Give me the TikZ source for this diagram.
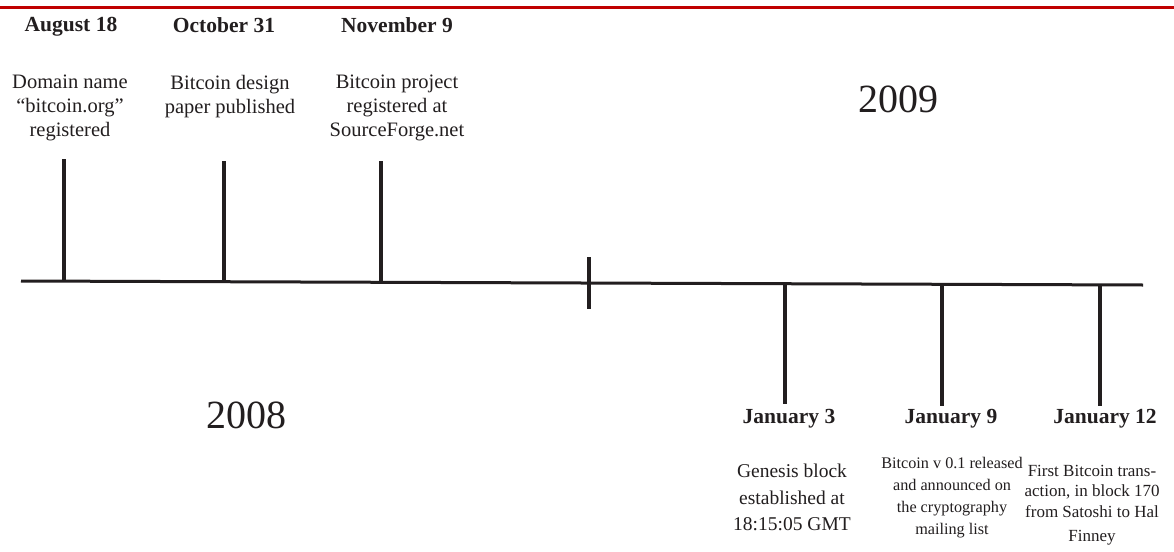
\documentclass[tikz,border=0pt]{standalone}
\usepackage{fontspec}
\setmainfont{Liberation Serif}
\definecolor{rulered}{RGB}{192,0,0}
\definecolor{ink}{RGB}{34,30,31}
\begin{document}
\begin{tikzpicture}[x=1pt,y=-1pt,
  axis/.style={draw=ink,line width=3pt},
  tickline/.style={draw=ink,line width=3.2pt},
  datelbl/.style={anchor=base,inner sep=0pt,font=\bfseries\fontsize{21.5}{24}\selectfont,text=ink},
  topdesc/.style={anchor=north,inner sep=0pt,align=center,font=\fontsize{20.5}{24}\selectfont,text=ink},
  year/.style={anchor=base,inner sep=0pt,font=\fontsize{40}{40}\selectfont,text=ink}
]
\useasboundingbox (0,0) rectangle (1174,551);
\fill[white] (0,0) rectangle (1174,551);
% red rule at top
\coordinate (rl) at (0,7.5);
\coordinate (rr) at (1174,7.5);
\draw[rulered,line width=3pt] (rl) -- (rr);
% main timeline
\coordinate (tl) at (21,281);
\coordinate (tr) at (1143,285);
\draw[axis] (tl) -- (tr);
% ticks above
\coordinate (a0) at (64,281.2);   \coordinate (a1) at (64,159);
\coordinate (b0) at (224,281.7);  \coordinate (b1) at (224,161);
\coordinate (c0) at (381,282.3);  \coordinate (c1) at (381,161);
\draw[tickline] (a0) -- (a1);
\draw[tickline] (b0) -- (b1);
\draw[tickline] (c0) -- (c1);
% year divider
\coordinate (m0) at (589,257);  \coordinate (m1) at (589,309);
\draw[tickline] (m0) -- (m1);
% ticks below
\coordinate (d0) at (785,283.7);  \coordinate (d1) at (785,404);
\coordinate (e0) at (942,284.3);  \coordinate (e1) at (942,406);
\coordinate (f0) at (1100,284.8); \coordinate (f1) at (1100,406);
\draw[tickline] (d0) -- (d1);
\draw[tickline] (e0) -- (e1);
\draw[tickline] (f0) -- (f1);
% top dates
\node[datelbl] (aug) at (71,32) {August 18};
\node[datelbl] (oct) at (224,33) {October 31};
\node[datelbl] (nov) at (397,33) {November 9};
\node[topdesc] (augd) at (70,75) {Domain name\\``bitcoin.org''\\registered};
\node[topdesc] (octd) at (230,75) {Bitcoin design\\paper published};
\node[topdesc] (novd) at (397,75) {Bitcoin project\\registered at\\SourceForge.net};
% bottom dates
\node[datelbl] (j3) at (789,423) {January 3};
\node[datelbl] (j9) at (951,423) {January 9};
\node[datelbl] (j12) at (1105,423) {January 12};
\node[anchor=north,inner sep=0pt,align=center,font=\fontsize{19.5}{26.5}\selectfont,text=ink] (j3d) at (792,464)
  {Genesis block\\established at\\18:15:05 GMT};
\node[anchor=north,inner sep=0pt,align=center,font=\fontsize{16.2}{22}\selectfont,text=ink] (j9d) at (952,457)
  {Bitcoin v 0.1 released\\and announced on\\the cryptography\\mailing list};
\node[anchor=north,inner sep=0pt,align=center,font=\fontsize{17}{20.5}\selectfont,text=ink] (j12d) at (1092,465)
  {First Bitcoin trans-\\action, in block 170\\from Satoshi to Hal\\[4pt]Finney};
% years
\node[year] (y9) at (898,112) {2009};
\node[year] (y8) at (246,428) {2008};
\end{tikzpicture}
\end{document}
